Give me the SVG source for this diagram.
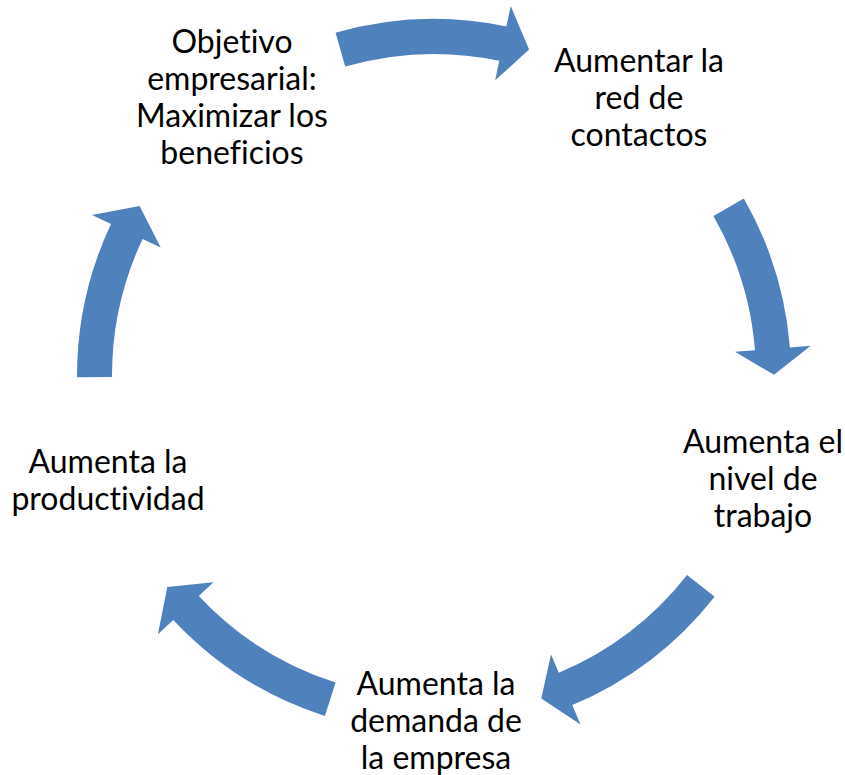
<svg xmlns="http://www.w3.org/2000/svg" width="845" height="775" viewBox="0 0 845 775">
<style>
.arr{fill:#4F81BD;stroke:none}
.lbl{font-family:Lato,"Liberation Sans",sans-serif;font-size:32px;fill:#000;text-anchor:middle;font-variant-ligatures:none;font-feature-settings:"liga" 0,"clig" 0}
</style>
<rect width="845" height="775" fill="#fff"/>
<g id="connectors">
<path class="arr" d="M335.6,32.8 A357,357 0 0 1 506.4,26.4 L510.7,5.9 L529.1,49.6 L495.2,80.3 L499.3,60.7 A322,322 0 0 0 345.2,66.5 Z"/>
<path class="arr" d="M743.8,198.6 A357,357 0 0 1 789.9,347.4 L810.8,345.7 L774.0,374.8 L735.0,351.8 L755.0,350.2 A322,322 0 0 0 713.4,216.0 Z"/>
<path class="arr" d="M714.6,596.7 A357,357 0 0 1 572.3,705.1 L580.5,724.5 L541.3,698.6 L551.0,654.4 L558.8,672.8 A322,322 0 0 0 687.1,575.0 Z"/>
<path class="arr" d="M324.9,715.9 A357,357 0 0 1 173.3,619.9 L157.9,634.2 L167.3,586.9 L213.4,582.3 L198.8,596.0 A322,322 0 0 0 335.6,682.6 Z"/>
<path class="arr" d="M77.0,377.3 A357,357 0 0 1 111.0,224.0 L92.0,215.1 L139.6,206.0 L160.7,247.4 L142.6,238.9 A322,322 0 0 0 112.0,377.1 Z"/>
</g>
<g id="n1"><text class="lbl" x="232" y="53">Objetivo</text><text class="lbl" x="232" y="90">empresarial:</text><text class="lbl" x="232" y="127">Maximizar los</text><text class="lbl" x="232" y="164">beneficios</text></g>
<g id="n2"><text class="lbl" x="639" y="72">Aumentar la</text><text class="lbl" x="639" y="109">red de</text><text class="lbl" x="639" y="146">contactos</text></g>
<g id="n3"><text class="lbl" x="763" y="453">Aumenta el</text><text class="lbl" x="763" y="490">nivel de</text><text class="lbl" x="763" y="527">trabajo</text></g>
<g id="n4"><text class="lbl" x="436" y="695">Aumenta la</text><text class="lbl" x="436" y="732">demanda de</text><text class="lbl" x="436" y="769">la empresa</text></g>
<g id="n5"><text class="lbl" x="108" y="473">Aumenta la</text><text class="lbl" x="108" y="510">productividad</text></g>
</svg>
